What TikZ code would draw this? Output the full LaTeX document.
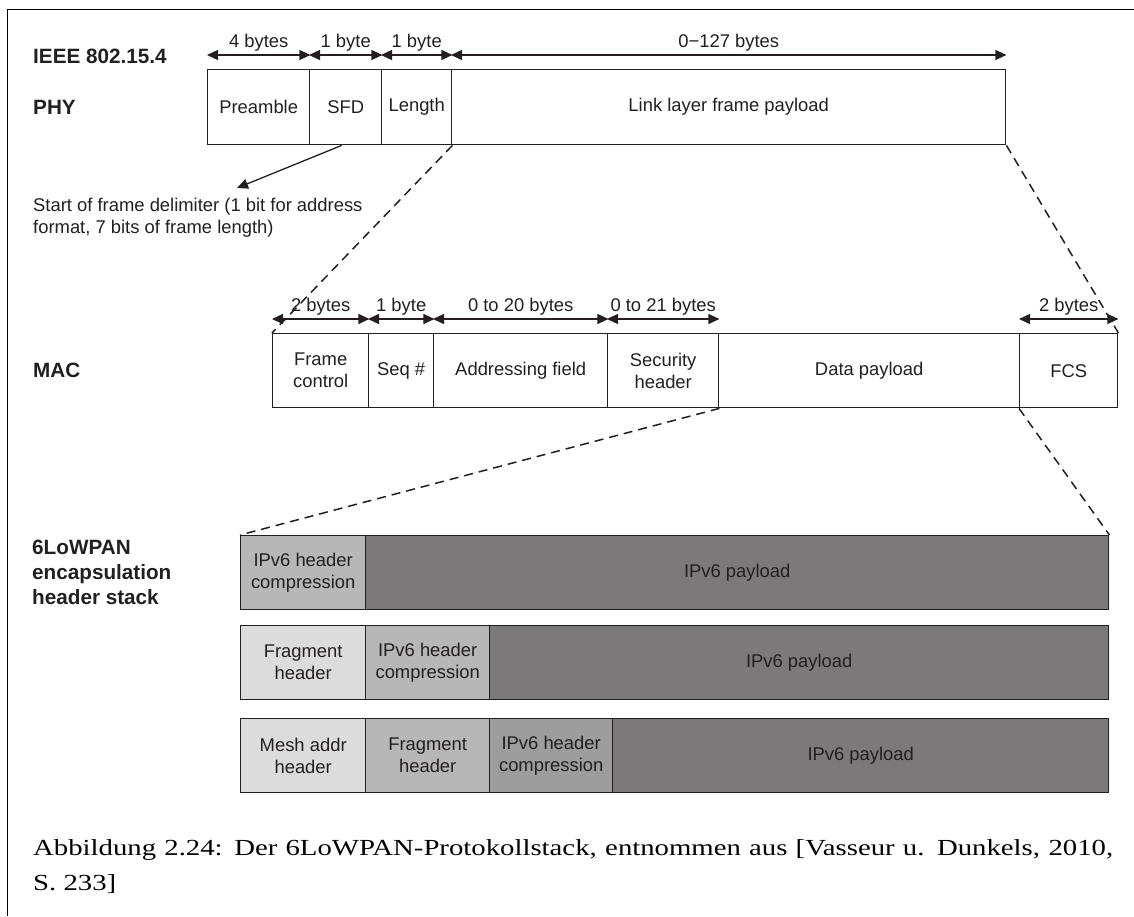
\documentclass[tikz,border=0pt]{standalone}
\usepackage{fontspec}
\setmainfont{Liberation Sans}
\newfontfamily\captionserif[FakeStretch=1.25]{Liberation Serif}
\usetikzlibrary{arrows.meta}

\definecolor{ink}{HTML}{231F20}
\definecolor{hdrlight}{HTML}{DCDCDC}
\definecolor{hdrmid}{HTML}{B7B7B7}
\definecolor{hdrdark}{HTML}{9D9D9D}
\definecolor{payload}{HTML}{7B7979}

\begin{document}
\begin{tikzpicture}[x=1pt,y=-1pt,
  every node/.style={text=ink, inner sep=0pt},
  field/.style={draw=ink, line width=1.4pt, anchor=north west, align=center,
    font=\fontsize{18.4}{22}\selectfont},
  mac/.style={field, minimum height=74pt},
  phy/.style={field, minimum height=75pt},
  stackbox/.style={field, minimum height=74pt},
  dim/.style={draw=ink, line width=1.3pt,
    {Triangle[length=11pt,width=10pt]}-{Triangle[length=11pt,width=10pt]}},
  dimlbl/.style={anchor=base, yshift=8pt, font=\fontsize{18.4}{22}\selectfont},
  zoomline/.style={draw=ink, line width=1.5pt, dash pattern=on 9pt off 6pt},
  side/.style={anchor=west, align=left, font=\bfseries\fontsize{20.7}{25}\selectfont},
]
\useasboundingbox (0,0) rectangle (1134,916);

% page frame (top and left rule)
\draw[line width=1.5pt, black] (7.5,916) -- (7.5,9.5) -- (1134,9.5);

% layer labels
\node[side] (lieee) at (33,56) {IEEE 802.15.4};
\node[side] (lphy) at (33,107) {PHY};
\node[side] (lmac) at (33,370) {MAC};
\node[side, anchor=north west] (llow) at (32,540) {6LoWPAN\\encapsulation\\header stack};

% PHY frame
\node[phy, minimum width=102pt] (pre) at (207,69) {Preamble};
\node[phy, minimum width=72pt]  (sfd) at (309,69) {SFD};
\node[phy, minimum width=70pt]  (len) at (381,69) {Length};
\node[phy, minimum width=554pt] (llp) at (451,69) {Link layer frame payload};

\draw[dim] ([yshift=14pt]pre.north west) -- node[dimlbl]{4 bytes} ([yshift=14pt]pre.north east);
\draw[dim] ([yshift=14pt]sfd.north west) -- node[dimlbl]{1 byte} ([yshift=14pt]sfd.north east);
\draw[dim] ([yshift=14pt]len.north west) -- node[dimlbl]{1 byte} ([yshift=14pt]len.north east);
\draw[dim] ([yshift=14pt]llp.north west) -- node[dimlbl]{0−127 bytes} ([yshift=14pt]llp.north east);

% SFD annotation
\coordinate (sfdtip) at (237,188);
\node[anchor=north west, align=left, font=\fontsize{18.4}{22}\selectfont] (sfdnote) at (33,198)
  {Start of frame delimiter (1 bit for address\\format, 7 bits of frame length)};
\draw[draw=ink, line width=1.3pt, -{Triangle[length=11pt,width=10pt]}] ([xshift=-4pt]sfd.south) -- (sfdtip);

% MAC frame
\node[mac, minimum width=96pt]  (fc)   at (272,333) {Frame\\control};
\node[mac, minimum width=65pt]  (seq)  at (368,333) {Seq \#};
\node[mac, minimum width=174pt] (addr) at (433,333) {Addressing field};
\node[mac, minimum width=111pt] (sec)  at (607,333) {Security\\header};
\node[mac, minimum width=301pt] (data) at (718,333) {Data payload};
\node[mac, minimum width=98pt]  (fcs)  at (1019,333) {FCS};

\draw[dim] ([yshift=14pt]fc.north west) -- node[dimlbl]{2 bytes} ([yshift=14pt]fc.north east);
\draw[dim] ([yshift=14pt]seq.north west) -- node[dimlbl]{1 byte} ([yshift=14pt]seq.north east);
\draw[dim] ([yshift=14pt]addr.north west) -- node[dimlbl]{0 to 20 bytes} ([yshift=14pt]addr.north east);
\draw[dim] ([yshift=14pt]sec.north west) -- node[dimlbl]{0 to 21 bytes} ([yshift=14pt]sec.north east);
\draw[dim] ([yshift=14pt]fcs.north west) -- node[dimlbl]{2 bytes} ([yshift=14pt]fcs.north east);

% 6LoWPAN header stacks
\node[stackbox, fill=hdrmid, minimum width=125pt]  (r1a) at (240,535) {IPv6 header\\compression};
\node[stackbox, fill=payload, minimum width=743pt] (r1p) at (365,535) {IPv6 payload};

\node[stackbox, fill=hdrlight, minimum width=125pt] (r2a) at (240,625) {Fragment\\header};
\node[stackbox, fill=hdrmid, minimum width=124pt]   (r2b) at (365,625) {IPv6 header\\compression};
\node[stackbox, fill=payload, minimum width=619pt]  (r2p) at (489,625) {IPv6 payload};

\node[stackbox, fill=hdrlight, minimum width=125pt] (r3a) at (240,718) {Mesh addr\\header};
\node[stackbox, fill=hdrmid, minimum width=124pt]   (r3b) at (365,718) {Fragment\\header};
\node[stackbox, fill=hdrdark, minimum width=123pt]  (r3c) at (489,718) {IPv6 header\\compression};
\node[stackbox, fill=payload, minimum width=496pt]  (r3p) at (612,718) {IPv6 payload};

% zoom-in connectors
\draw[zoomline] (len.south east) -- (fc.north west);
\draw[zoomline] (llp.south east) -- (fcs.north east);
\draw[zoomline] (sec.south east) -- (r1a.north west);
\draw[zoomline] (fcs.south west) -- (r1p.north east);

% caption
\node[anchor=north west, align=left, font=\captionserif\fontsize{23}{35}\selectfont, text=black] (cap) at (33,839)
  {\makebox[1080pt][s]{Abbildung 2.24: Der 6LoWPAN-Protokollstack, entnommen aus [Vasseur u. Dunkels, 2010,}\\S. 233]};
\end{tikzpicture}
\end{document}
